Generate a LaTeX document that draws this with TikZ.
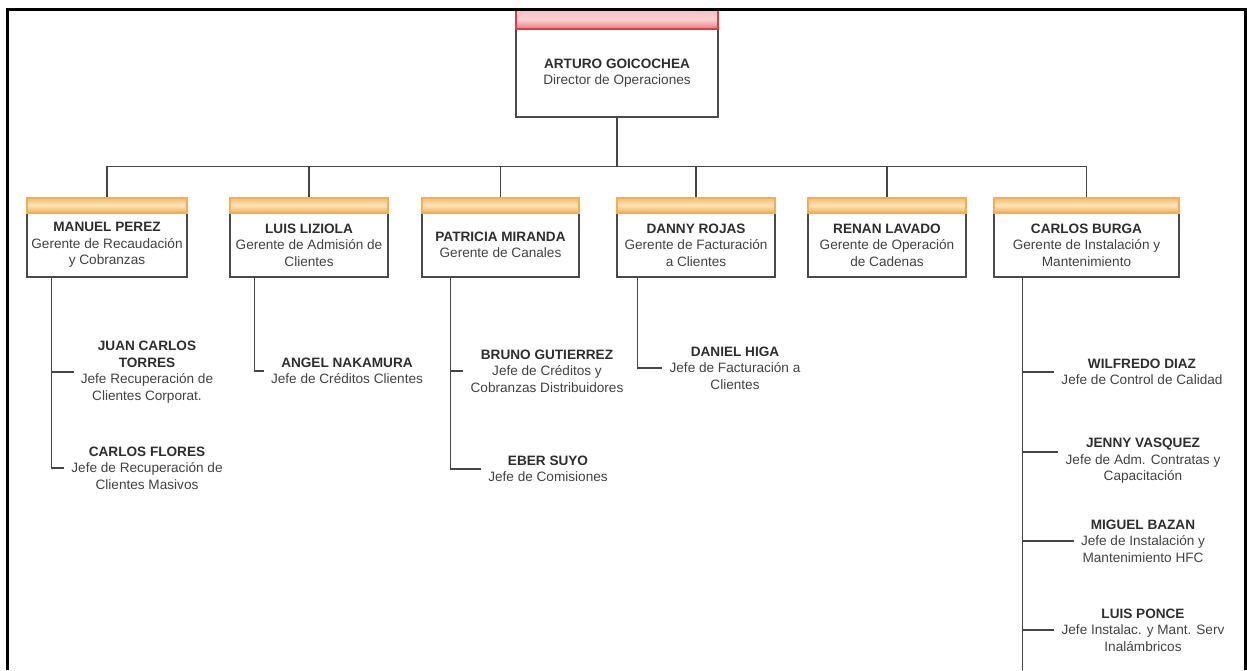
\documentclass[tikz,border=0pt]{standalone}
\usepackage{fontspec}
\setmainfont{Liberation Sans}
\usetikzlibrary{calc}
\definecolor{linegray}{HTML}{454545}
\definecolor{boxgray}{HTML}{4A4A4A}
\definecolor{namegray}{HTML}{2E2E2E}
\definecolor{titlegray}{HTML}{424242}
\definecolor{hdrorange}{HTML}{F3AE4E}
\definecolor{hdrlight}{HTML}{FDE3BC}
\definecolor{hdrred}{HTML}{DE3B40}
\definecolor{hdrpink}{HTML}{F8BFC1}
\newcommand{\pname}[1]{\textbf{\textcolor{namegray}{#1}}}
\tikzset{
  txt/.style={align=center, font=\fontsize{13.6}{16.5}\selectfont, text=titlegray, inner sep=2pt},
  body/.style={txt, draw=boxgray, line width=1.4pt, fill=white, minimum height=64pt, inner sep=0pt},
  hdr/.style={draw=hdrorange, line width=1.2pt, top color=hdrorange!80, bottom color=hdrorange, middle color=hdrlight, minimum height=15pt, inner sep=0pt},
  redhdr/.style={draw=hdrred, line width=1.2pt, top color=hdrpink, bottom color=hdrred!70, middle color=hdrpink!70, minimum height=19pt, inner sep=0pt},
  conn/.style={draw=linegray, line width=1.5pt},
  totext/.style={conn, shorten >=5pt},
  frame/.style={draw=black, line width=3pt}
}
\begin{document}
\begin{tikzpicture}[x=1pt, y=-1pt]
\useasboundingbox (0,0) rectangle (1247,670);
\coordinate (bot) at (0,670);

% Director
\node[body, minimum width=202pt, minimum height=88pt] (d) at (617,73)
  {\pname{ARTURO GOICOCHEA}\\Director de Operaciones};
\node[redhdr, minimum width=202pt] (dh) at (617,19.5) {};

% Managers: header band and body
\node[body, minimum width=160pt] (m1) at (107,245)
  {\pname{MANUEL PEREZ}\\Gerente de Recaudación\\y Cobranzas};
\node[hdr, minimum width=160pt] (m1h) at (107,205.5) {};
\node[body, minimum width=158pt] (m2) at (309,245)
  {\pname{LUIS LIZIOLA}\\Gerente de Admisión de\\Clientes};
\node[hdr, minimum width=158pt] (m2h) at (309,205.5) {};
\node[body, minimum width=157pt] (m3) at (500.5,245)
  {\pname{PATRICIA MIRANDA}\\Gerente de Canales};
\node[hdr, minimum width=157pt] (m3h) at (500.5,205.5) {};
\node[body, minimum width=158pt] (m4) at (696,245)
  {\pname{DANNY ROJAS}\\Gerente de Facturación\\a Clientes};
\node[hdr, minimum width=158pt] (m4h) at (696,205.5) {};
\node[body, minimum width=158pt] (m5) at (887,245)
  {\pname{RENAN LAVADO}\\Gerente de Operación\\de Cadenas};
\node[hdr, minimum width=158pt] (m5h) at (887,205.5) {};
\node[body, minimum width=185pt] (m6) at (1086.5,245)
  {\pname{CARLOS BURGA}\\Gerente de Instalación y\\Mantenimiento};
\node[hdr, minimum width=185pt] (m6h) at (1086.5,205.5) {};

% Director to managers
\draw[conn] (d.south) -- ++(0,49) coordinate (bus);
\foreach \m in {m1h,m2h,m3h,m4h,m5h,m6h}
  \draw[conn] (bus) -| (\m.north);

% Staff under each manager
\node[txt] (j1) at (147,372)
  {\pname{JUAN CARLOS}\\\pname{TORRES}\\Jefe Recuperación de\\Clientes Corporat.};
\node[txt] (j2) at (147,468)
  {\pname{CARLOS FLORES}\\Jefe de Recuperación de\\Clientes Masivos};
\node[txt] (a1) at (347,371)
  {\pname{ANGEL NAKAMURA}\\Jefe de Créditos Clientes};
\node[txt] (b1) at (547,371)
  {\pname{BRUNO GUTIERREZ}\\Jefe de Créditos y\\Cobranzas Distribuidores};
\node[txt] (b2) at (548,469)
  {\pname{EBER SUYO}\\Jefe de Comisiones};
\node[txt] (d1) at (735,368)
  {\pname{DANIEL HIGA}\\Jefe de Facturación a\\Clientes};
\node[txt] (w1) at (1142,372)
  {\pname{WILFREDO DIAZ}\\Jefe de Control de Calidad};
\node[txt] (w2) at (1143,461)
  {\pname{JENNY VASQUEZ}\\Jefe de Adm. Contratas y\\Capacitación};
\node[txt] (w3) at (1143,541)
  {\pname{MIGUEL BAZAN}\\Jefe de Instalación y\\Mantenimiento HFC};
\node[txt] (w4) at (1143,630)
  {\pname{LUIS PONCE}\\Jefe Instalac. y Mant. Serv\\Inalámbricos};

% Spines from managers to staff
\coordinate (s1) at ($(m1.south west)+(25,0)$);
\coordinate (s2) at ($(m2.south west)+(25,0)$);
\coordinate (s3) at ($(m3.south west)+(29,0)$);
\coordinate (s4) at ($(m4.south west)+(21,0)$);
\coordinate (s6) at ($(m6.south west)+(29,0)$);

\draw[totext] (s1 |- j1.west) -- (j1.west);
\draw[totext] (s1) |- (j2.west);
\draw[totext] (s2) |- (a1.west);
\draw[totext] (s3 |- b1.west) -- (b1.west);
\draw[totext] (s3) |- (b2.west);
\draw[totext] (s4) |- (d1.west);
\coordinate (w2b) at ($(w2.west)+(0,-9)$);
\draw[conn] (s6) -- (s6 |- bot);
\draw[totext] (s6 |- w1.west) -- (w1.west);
\draw[totext] (s6 |- w2b) -- (w2b);
\draw[totext] (s6 |- w3.west) -- (w3.west);
\draw[totext] (s6 |- w4.west) -- (w4.west);

% Page frame, open at the bottom
\draw[frame] (7,670) -- (7,9) -- (1245,9) -- (1245,670);
\end{tikzpicture}
\end{document}
